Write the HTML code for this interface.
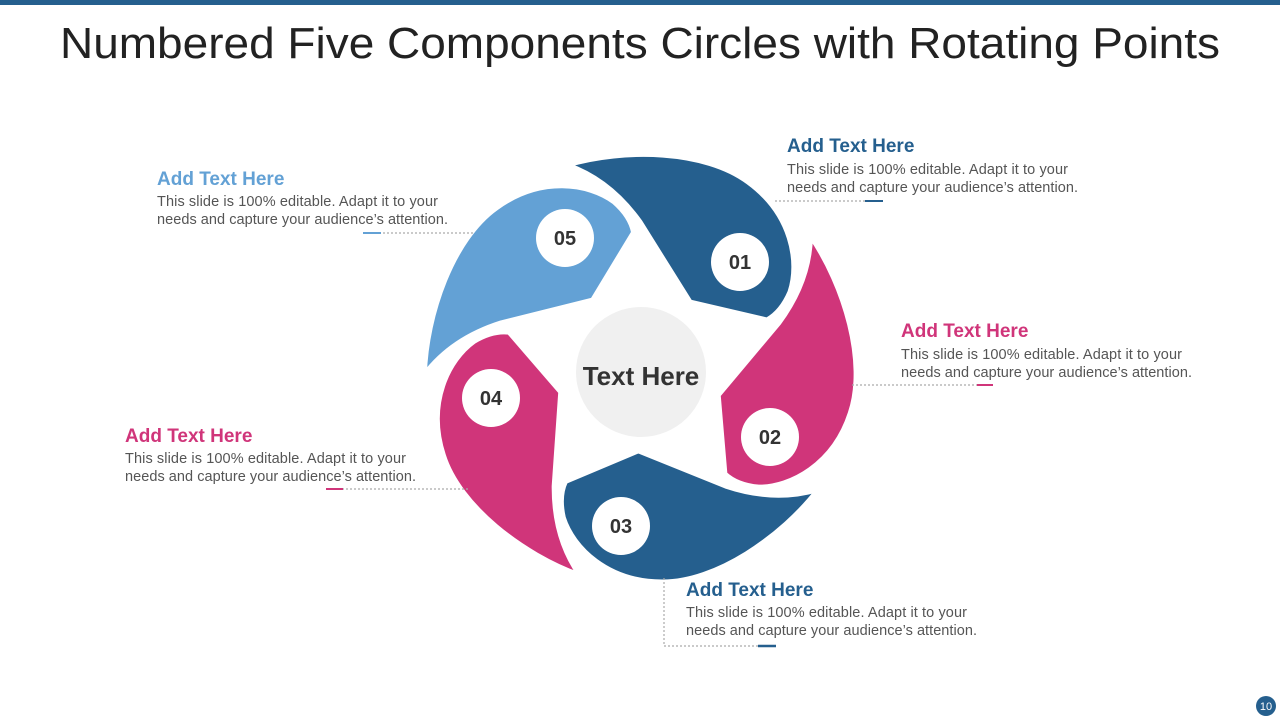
<!DOCTYPE html>
<html><head><meta charset="utf-8"><style>
html,body{margin:0;padding:0;background:#fff;}
svg{display:block;font-family:"Liberation Sans",sans-serif;}
.h{font-weight:bold;font-size:19px;}
.b{font-size:14.5px;fill:#555;}
.n{font-weight:bold;font-size:20px;fill:#333;text-anchor:middle;}
.dot{stroke:#aaa;stroke-width:1.2;stroke-dasharray:2 2;fill:none;}
</style></head><body>
<svg width="1280" height="720" viewBox="0 0 1280 720">
<rect x="0" y="0" width="1280" height="5" fill="#255f8e"/>
<text x="60" y="58" font-size="44" fill="#222" textLength="1160" lengthAdjust="spacingAndGlyphs">Numbered Five Components Circles with Rotating Points</text>

<defs>
<g id="seg">
<path d="M567,165 C625,148 705,150 748,182 C792,214 800,262 790,292 C784,306 776,315 767,320 L690,302 L640,222 C620,194 596,175 567,165 Z"/>
</g>
</defs>
<g stroke="#ffffff" stroke-width="5" stroke-linejoin="round">
<use href="#seg" fill="#255f8e"/>
<use href="#seg" fill="#d0357a" transform="rotate(72 640 368)"/>
<use href="#seg" fill="#255f8e" transform="rotate(144 640 368)"/>
<use href="#seg" fill="#d0357a" transform="rotate(216 640 368)"/>
<use href="#seg" fill="#63a1d5" transform="rotate(288 640 368)"/>
</g>
<circle cx="641" cy="372" r="65" fill="#f0f0f0"/>
<text x="641" y="385" font-size="26" font-weight="bold" fill="#333" text-anchor="middle">Text Here</text>

<g fill="#fff">
<circle cx="740" cy="262" r="29"/>
<circle cx="770" cy="437" r="29"/>
<circle cx="621" cy="526" r="29"/>
<circle cx="491" cy="398" r="29"/>
<circle cx="565" cy="238" r="29"/>
</g>
<text class="n" x="740" y="269">01</text>
<text class="n" x="770" y="444">02</text>
<text class="n" x="621" y="533">03</text>
<text class="n" x="491" y="405">04</text>
<text class="n" x="565" y="245">05</text>

<!-- connectors -->
<path class="dot" d="M775,201 H883"/><path d="M865,201 H883" stroke="#255f8e" stroke-width="2"/>
<path class="dot" d="M363,233 H475"/><path d="M363,233 H381" stroke="#63a1d5" stroke-width="2"/>
<path class="dot" d="M852,385 H993"/><path d="M977,385 H993" stroke="#d0357a" stroke-width="2"/>
<path class="dot" d="M326,489 H470"/><path d="M326,489 H343" stroke="#d0357a" stroke-width="2"/>
<path class="dot" d="M664,578 V646 H776"/><path d="M758,646 H776" stroke="#255f8e" stroke-width="2.5"/>

<!-- texts -->
<text class="h" x="787" y="152" fill="#255f8e">Add Text Here</text>
<text class="b" x="787" y="174" textLength="281">This slide is 100% editable. Adapt it to your</text>
<text class="b" x="787" y="192" textLength="291">needs and capture your audience’s attention.</text>

<text class="h" x="157" y="185" fill="#63a1d5">Add Text Here</text>
<text class="b" x="157" y="206" textLength="281">This slide is 100% editable. Adapt it to your</text>
<text class="b" x="157" y="224" textLength="291">needs and capture your audience’s attention.</text>

<text class="h" x="901" y="337" fill="#d0357a">Add Text Here</text>
<text class="b" x="901" y="359" textLength="281">This slide is 100% editable. Adapt it to your</text>
<text class="b" x="901" y="377" textLength="291">needs and capture your audience’s attention.</text>

<text class="h" x="125" y="442" fill="#d0357a">Add Text Here</text>
<text class="b" x="125" y="463" textLength="281">This slide is 100% editable. Adapt it to your</text>
<text class="b" x="125" y="481" textLength="291">needs and capture your audience’s attention.</text>

<text class="h" x="686" y="596" fill="#255f8e">Add Text Here</text>
<text class="b" x="686" y="617" textLength="281">This slide is 100% editable. Adapt it to your</text>
<text class="b" x="686" y="635" textLength="291">needs and capture your audience’s attention.</text>

<circle cx="1266" cy="706" r="10" fill="#255f8e"/>
<text x="1266" y="710" font-size="11" fill="#fff" text-anchor="middle">10</text>
</svg>
</body></html>
